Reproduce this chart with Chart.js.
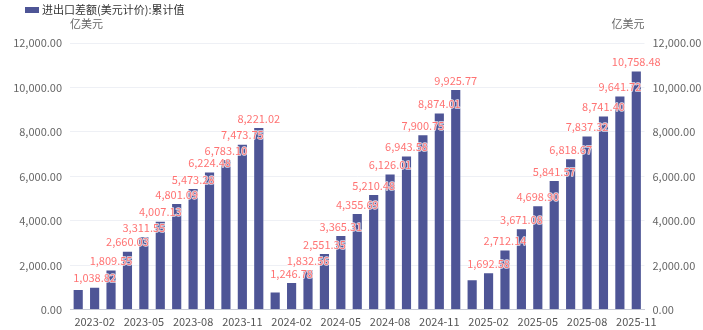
<!DOCTYPE html>
<html>
<head>
<meta charset="utf-8">
<script src="https://cdn.jsdelivr.net/npm/chart.js@4/dist/chart.umd.min.js"></script>
<style>
  html, body { margin: 0; padding: 0; background: #fff; }
  #wrap { width: 703px; height: 330px; position: relative; }
</style>
</head>
<body>
<div id="wrap"><canvas id="c" width="703" height="330"></canvas></div>
<script>
const categories = [
  "2023-01","2023-02","2023-03","2023-04","2023-05","2023-06","2023-07","2023-08","2023-09","2023-10","2023-11","2023-12",
  "2024-01","2024-02","2024-03","2024-04","2024-05","2024-06","2024-07","2024-08","2024-09","2024-10","2024-11","2024-12",
  "2025-01","2025-02","2025-03","2025-04","2025-05","2025-06","2025-07","2025-08","2025-09","2025-10","2025-11"
];
const values2023 = [930, 1038.82, 1809.55, 2660.03, 3311.55, 4007.13, 4801.09, 5473.28, 6224.48, 6783.10, 7473.75, 8221.02];
const values2024 = [825, 1246.78, 1832.56, 2551.35, 3365.31, 4355.69, 5210.48, 6126.01, 6943.58, 7900.75, 8874.01, 9925.77];
const values2025 = [1375, 1692.58, 2712.14, 3671.08, 4698.90, 5841.57, 6818.67, 7837.32, 8741.40, 9641.72, 10758.48];
const values = values2023.concat(values2024, values2025);
const yTicks = [0, 2000, 4000, 6000, 8000, 10000, 12000];
const seriesName = "进出口差额(美元计价):累计值";
const unitText = "亿美元";

const FONT = '"Noto Sans CJK SC", "Microsoft YaHei", sans-serif';
const fmt = v => Number(v).toLocaleString('en-US', {minimumFractionDigits: 2, maximumFractionDigits: 2});

const extras = {
  id: 'extras',
  afterDatasetsDraw(chart) {
    const ctx = chart.ctx;
    const meta = chart.getDatasetMeta(0);
    ctx.save();
    ctx.font = '11px ' + FONT;
    ctx.textAlign = 'center';
    ctx.textBaseline = 'bottom';
    ctx.lineJoin = 'round';
    meta.data.forEach((bar, i) => {
      if (categories[i].endsWith('-01')) return;
      const t = fmt(values[i]);
      ctx.lineWidth = 1.5;
      ctx.strokeStyle = 'rgba(255,255,255,0.8)';
      ctx.strokeText(t, bar.x, bar.y - 3);
      ctx.fillStyle = '#ff7373';
      ctx.fillText(t, bar.x, bar.y - 3);
    });
    ctx.restore();
  },
  afterDraw(chart) {
    const ctx = chart.ctx;
    const a = chart.chartArea;
    ctx.save();
    ctx.font = '11px ' + FONT;
    ctx.fillStyle = '#666';
    ctx.textBaseline = 'middle';
    ctx.textAlign = 'left';
    ctx.fillText(unitText, a.left, 24);
    ctx.textAlign = 'right';
    ctx.fillText(unitText, a.right, 24);
    // legend
    ctx.fillStyle = '#4e5596';
    ctx.fillRect(25, 7, 14, 6);
    ctx.fillStyle = '#333';
    ctx.textAlign = 'left';
    ctx.fillText(seriesName, 42, 10);
    ctx.restore();
  }
};

new Chart(document.getElementById('c'), {
  type: 'bar',
  data: {
    labels: categories,
    datasets: [{
      label: seriesName,
      data: values,
      backgroundColor: '#4e5596',
      borderColor: 'rgba(255,255,255,0.3)',
      borderWidth: 1,
      categoryPercentage: 1,
      barPercentage: 0.68,
      yAxisID: 'y'
    }]
  },
  options: {
    responsive: false,
    animation: false,
    layout: { padding: { top: 43, right: 0, left: 0, bottom: -3 } },
    plugins: { legend: { display: false }, tooltip: { enabled: false } },
    scales: {
      x: {
        grid: { display: false, drawTicks: false },
        border: { display: true, color: '#c8cbd6' },
        ticks: {
          autoSkip: false, maxRotation: 0, padding: 5,
          color: '#555', font: { size: 11, family: FONT },
          callback: function(v, i) { return i % 3 === 1 ? categories[i] : ''; }
        }
      },
      y: {
        position: 'left', min: 0, max: 12000,
        afterFit(s) { s.width = 70; },
        afterBuildTicks(s) { s.ticks = yTicks.map(v => ({value: v})); },
        grid: { color: '#eef0f5', drawTicks: false },
        border: { display: false },
        ticks: { padding: 8, color: '#666', font: { size: 11, family: FONT }, callback: v => fmt(v) }
      },
      y1: {
        position: 'right', min: 0, max: 12000,
        afterFit(s) { s.width = 58.5; },
        afterBuildTicks(s) { s.ticks = yTicks.map(v => ({value: v})); },
        grid: { display: false, drawTicks: false },
        border: { display: false },
        ticks: { padding: 8, color: '#666', font: { size: 11, family: FONT }, callback: v => fmt(v) }
      }
    }
  },
  plugins: [extras]
});
</script>
</body>
</html>
